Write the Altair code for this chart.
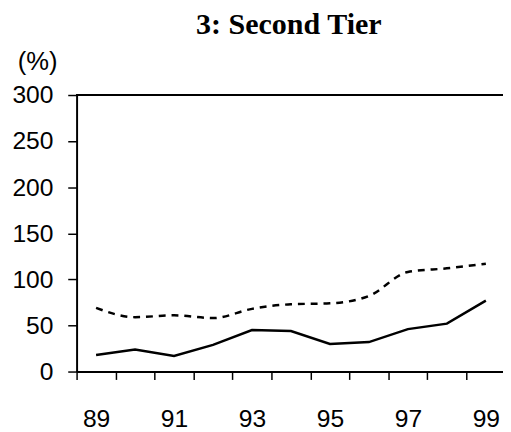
import altair as alt
import pandas as pd

# ---- data ----
years = [89, 90, 91, 92, 93, 94, 95, 96, 97, 98, 99]
solid_values = [18, 24, 17, 29, 45, 44, 30, 32, 46, 52, 77]
dashed_values = [69, 59, 61, 58, 68, 73, 74, 82, 108, 112, 117]
y_tick_values = [0, 50, 100, 150, 200, 250, 300]
title_text = "3: Second Tier"
unit_text = "(%)"

df = pd.DataFrame({"year": years, "solid": solid_values, "dashed": dashed_values})

W = 433.3
H = 281

x_tick_positions = [y - 0.5 for y in years]

xscale = alt.Scale(domain=[88.5, 99.44], nice=False, zero=False)
yscale = alt.Scale(domain=[0, 300], nice=False)

xaxis = alt.Axis(
    values=x_tick_positions,
    labelExpr="(datum.value + 0.5) % 2 == 1 ? '' + (datum.value + 0.5) : ''",
    labelOffset=19.8,
    tickSize=8, tickColor="black", tickWidth=1.5,
    domainColor="black", domainWidth=2,
    labelFont="Liberation Sans", labelFontSize=25, labelColor="black",
    labelPadding=28, labelFlush=False, labelOverlap=False,
    grid=False, title=None,
)

yaxis = alt.Axis(
    values=y_tick_values,
    tickSize=9, tickColor="black", tickWidth=1.5,
    domainColor="black", domainWidth=2,
    labelFont="Liberation Sans", labelFontSize=25, labelColor="black",
    labelPadding=15, labelBaseline="middle", labelFlush=False, labelOverlap=False,
    grid=False,
    title=unit_text, titleAngle=0, titleAlign="center", titleBaseline="alphabetic",
    titleX=-40, titleY=-26, titleFont="Liberation Sans", titleFontSize=26,
    titleFontWeight="normal", titleColor="black",
)

base = alt.Chart(df)

solid_line = base.mark_line(color="black", strokeWidth=2.5).encode(
    x=alt.X("year:Q", scale=xscale, axis=xaxis),
    y=alt.Y("solid:Q", scale=yscale, axis=yaxis),
)

dashed_line = base.mark_line(color="black", strokeWidth=2.5, strokeDash=[7, 6],
                             interpolate="monotone").encode(
    x=alt.X("year:Q", scale=xscale),
    y=alt.Y("dashed:Q", scale=yscale),
)

top_border = base.mark_rule(color="black", strokeWidth=2).encode(
    x=alt.value(0), x2=alt.value(W), y=alt.value(0)
)

chart = alt.layer(top_border, dashed_line, solid_line).properties(
    width=W, height=H,
    title=alt.TitleParams(
        title_text, font="Liberation Serif", fontSize=30.5, fontWeight="bold",
        color="black", anchor="middle", frame="group", dx=-1, dy=-5,
    ),
    autosize=alt.AutoSizeParams(type="none"),
    padding={"left": 69.7, "right": 0, "top": 85, "bottom": 58},
).configure_view(stroke=None)

chart.save("out.html", embed_options={"renderer": "svg", "actions": False})
